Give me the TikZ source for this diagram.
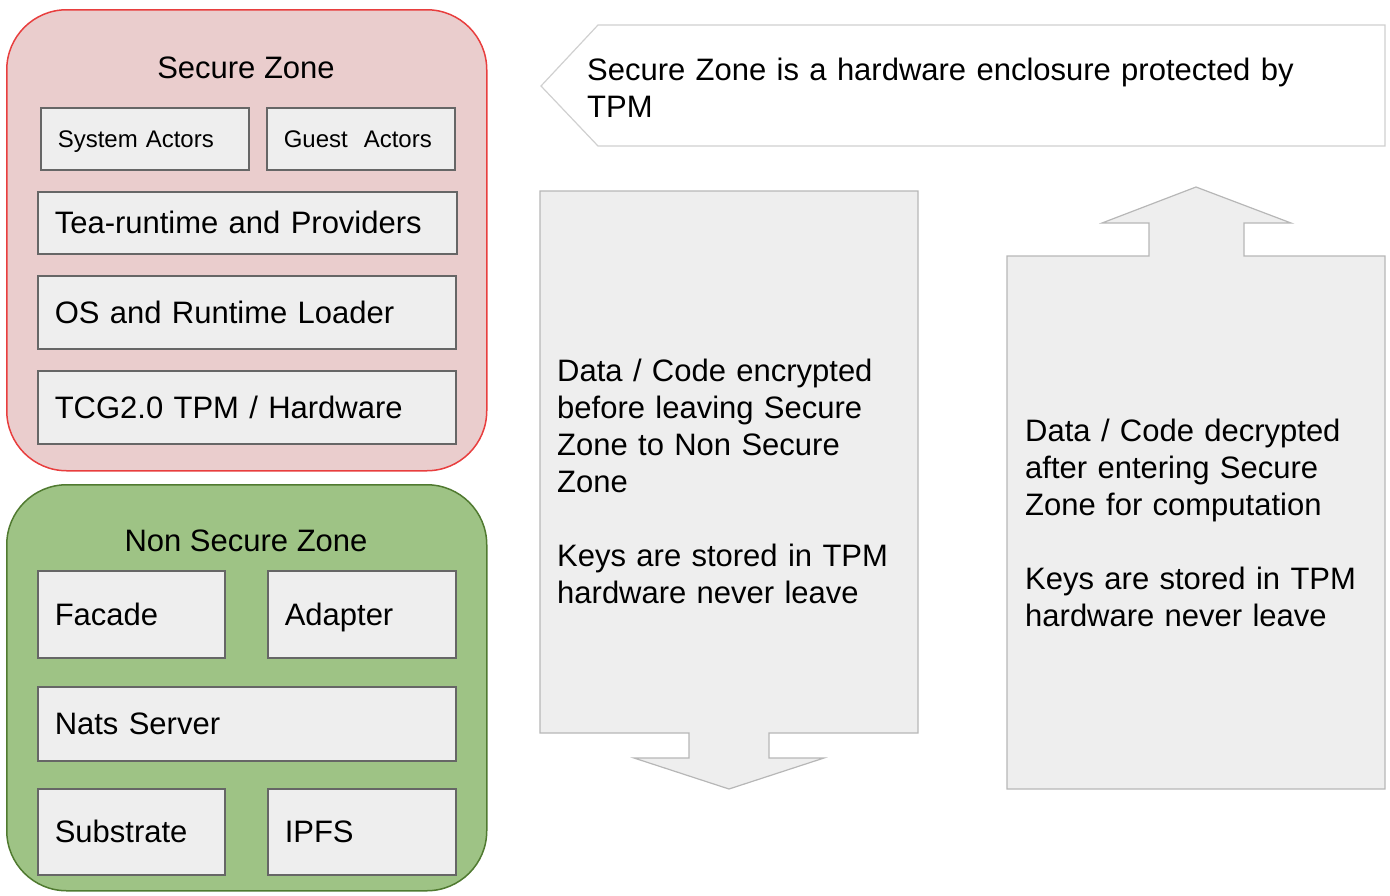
\documentclass[tikz,border=0pt]{standalone}
\usepackage{fontspec}
\setmainfont{Liberation Sans}
\usepackage{tikz}
\usepackage{xcolor}
\usetikzlibrary{positioning}
\definecolor{zone-re}{RGB}{234,205,205}
\definecolor{zone-re-line}{RGB}{232,62,62}
\definecolor{zone-gr}{RGB}{158,195,133}
\definecolor{zone-gr-line}{RGB}{80,122,48}
\definecolor{layer-fill}{RGB}{238,238,238}
\definecolor{layer-line}{RGB}{102,102,102}
\definecolor{flow-line}{RGB}{183,183,183}
\definecolor{callout-line}{RGB}{208,208,208}
\newcommand{\zonefont}{\fontsize{31}{37}\selectfont}
\newcommand{\actorfont}{\fontsize{24}{29}\selectfont}
\tikzstyle{a}=[anchor=north west]
\tikzstyle{zone}=[a,rectangle,rounded corners=60pt,line width=1.5pt]
\tikzstyle{secure}=[zone,draw=zone-re-line,fill=zone-re]
\tikzstyle{nonsecure}=[zone,draw=zone-gr-line,fill=zone-gr]
\tikzstyle{title}=[anchor=base,inner sep=0pt,font=\zonefont]
\tikzstyle{layer}=[a,draw=layer-line,fill=layer-fill,line width=1.5pt,align=left,inner xsep=17pt,inner ysep=0pt,text height=22pt,text depth=0pt,font=\zonefont]
\tikzstyle{actor}=[layer,text height=17pt,font=\actorfont]
\tikzstyle{flow}=[draw=flow-line,fill=layer-fill,line width=1.2pt,line join=miter]
\tikzstyle{callout}=[draw=callout-line,fill=white,line width=1.2pt]
\tikzstyle{note}=[anchor=base west,inner sep=0pt,align=left,font=\zonefont]

\begin{document}
\begin{tikzpicture}[x=1pt,y=-1pt]
%    \draw[step=50,gray,thin] (0,0) grid (1390,895);
    \useasboundingbox (0,0) rectangle (1390,895);

    \node[secure, minimum width=480pt, minimum height=461pt] at (6,9) (securezone) {};
    \node[title] at (246,78) (securetitle) {Secure Zone};
    \node[actor, text width=174pt, minimum height=62pt] at (40,107) (sysactors) {System Actors};
    \node[actor, text width=154pt, minimum height=62pt] at (266,107) (guestactors) {Guest\ \ Actors};
    \node[layer, text width=385pt, minimum height=62pt] at (37,191) (tea) {Tea-runtime and Providers};
    \node[layer, text width=384pt, minimum height=73pt] at (37,275) (os) {OS and Runtime Loader};
    \node[layer, text width=384pt, minimum height=73pt] at (37,370) (tcg) {TCG2.0 TPM / Hardware};

    \node[nonsecure, minimum width=480pt, minimum height=406pt] at (6,484) (nonsecurezone) {};
    \node[title] at (246,551) (nonsecuretitle) {Non Secure Zone};
    \node[layer, text width=153pt, minimum height=87pt] at (37,570) (facade) {Facade};
    \node[layer, text width=154pt, minimum height=87pt] at (267,570) (adapter) {Adapter};
    \node[layer, text width=384pt, minimum height=74pt] at (37,686) (nats) {Nats Server};
    \node[layer, text width=153pt, minimum height=86pt] at (37,788) (substrate) {Substrate};
    \node[layer, text width=154pt, minimum height=86pt] at (267,788) (ipfs) {IPFS};

    \draw[callout] (541,86) -- (598,25) -- (1385,25) -- (1385,146) -- (598,146) -- cycle;
    \node[note, text width=780pt] at (587,80) (tpmnote) {Secure Zone is a hardware enclosure protected by\\TPM};

    \draw[flow] (540,191) -- (918,191) -- (918,733) -- (769,733) -- (769,758) -- (824,758) -- (729,789)
        -- (634,758) -- (689,758) -- (689,733) -- (540,733) -- cycle;
    \node[note, text width=355pt] at (557,381) (encrypt) {Data / Code encrypted\\before leaving Secure\\Zone to Non Secure\\Zone\\[37pt]Keys are stored in TPM\\hardware never leave};

    \draw[flow] (1007,256) -- (1149,256) -- (1149,223) -- (1102,223) -- (1196,187) -- (1291,223)
        -- (1244,223) -- (1244,256) -- (1385,256) -- (1385,789) -- (1007,789) -- cycle;
    \node[note, text width=355pt] at (1025,441) (decrypt) {Data / Code decrypted\\after entering Secure\\Zone for computation\\[37pt]Keys are stored in TPM\\hardware never leave};
\end{tikzpicture}
\end{document}
